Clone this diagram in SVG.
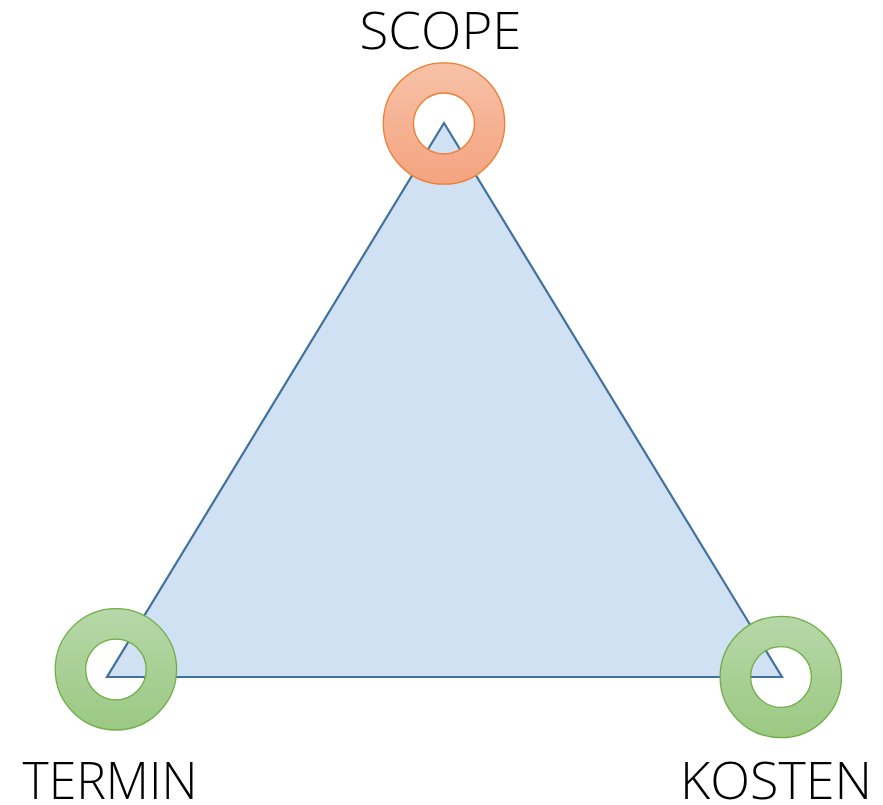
<svg xmlns="http://www.w3.org/2000/svg" width="883" height="805" viewBox="0 0 883 805">
<style>
.lbl{font-family:"Open Sans","Liberation Sans",sans-serif;font-weight:300;font-size:52px;fill:#000;text-anchor:middle}
.ring{fill-rule:evenodd;stroke-width:1.3}
.orange{fill:url(#gOrange);stroke:#ed7d31}
.green{fill:url(#gGreen);stroke:#70ad47}
</style>
<defs>
<linearGradient id="gOrange" x1="0" y1="0" x2="0" y2="1">
<stop offset="0" stop-color="#f7c2a8"/>
<stop offset="1" stop-color="#f4a37f"/>
</linearGradient>
<linearGradient id="gGreen" x1="0" y1="0" x2="0" y2="1">
<stop offset="0" stop-color="#b7d7a8"/>
<stop offset="1" stop-color="#9bc983"/>
</linearGradient>
</defs>
<g id="triangle">
<polygon points="444,123 107,677 782,677" fill="#cfe1f3" stroke="#41719c" stroke-width="2.2" stroke-linejoin="miter"/>
</g>
<g id="scope">
<path class="ring orange" d="M383.3,123.5a60.7,60.7 0 1,0 121.4,0a60.7,60.7 0 1,0 -121.4,0Z M413.5,123.5a30.5,30.5 0 1,0 61,0a30.5,30.5 0 1,0 -61,0Z"/>
<text class="lbl" x="440.5" y="48.5" textLength="162" lengthAdjust="spacingAndGlyphs">SCOPE</text>
</g>
<g id="termin">
<path class="ring green" d="M55.2,669.3a60.7,60.7 0 1,0 121.4,0a60.7,60.7 0 1,0 -121.4,0Z M85.6,669.5a30.3,30.3 0 1,0 60.6,0a30.3,30.3 0 1,0 -60.6,0Z"/>
<text class="lbl" x="110" y="799" textLength="175" lengthAdjust="spacingAndGlyphs">TERMIN</text>
</g>
<g id="kosten">
<path class="ring green" d="M720.1,677a60.7,60.7 0 1,0 121.4,0a60.7,60.7 0 1,0 -121.4,0Z M750.6,677a30.4,30.4 0 1,0 60.8,0a30.4,30.4 0 1,0 -60.8,0Z"/>
<text class="lbl" x="776" y="799" textLength="192" lengthAdjust="spacingAndGlyphs">KOSTEN</text>
</g>
<g id="connectors"></g>
</svg>
